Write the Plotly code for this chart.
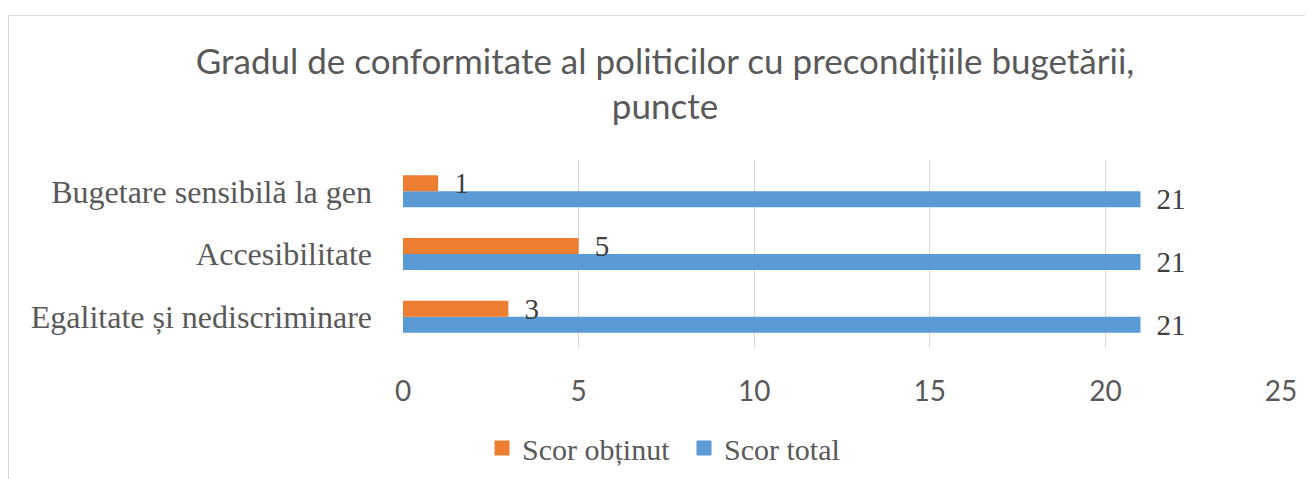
import plotly.graph_objects as go

# categories listed bottom-to-top (category axis draws the first one at the bottom)
categories = ["Egalitate și nediscriminare", "Accesibilitate", "Bugetare sensibilă la gen"]
scor_obtinut = [3, 5, 1]
scor_total = [21, 21, 21]
x_ticks = [0, 5, 10, 15, 20, 25]

OFF = 8  # browser body margin
W, H = 1313 - OFF, 479 - OFF
# plot area in page pixels
PL, PR, PT, PB = 403, 1281, 160, 348
L, T = PL - OFF, PT - OFF
R = W - (PR - OFF)
B = H - (PB - OFF)
pw, ph = PR - PL, PB - PT

def px_x(x):
    return (x - PL) / pw

def px_y(y):
    return 1 - (y - PT) / ph

label_font = dict(family="Liberation Serif", size=29, color="#404040")
ORANGE, BLUE = "#ED7D31", "#5B9BD5"

fig = go.Figure()
fig.add_trace(go.Bar(
    y=categories, x=scor_total, orientation="h", name="Scor total",
    marker=dict(color=BLUE, line=dict(width=0)),
    texttemplate="\u00a0\u2009%{x}", textposition="outside", textfont=label_font,
    constraintext="none", cliponaxis=False, showlegend=False,
))
fig.add_trace(go.Bar(
    y=categories, x=scor_obtinut, orientation="h", name="Scor obținut",
    marker=dict(color=ORANGE, line=dict(width=0)),
    texttemplate="\u00a0\u2009%{x}", textposition="outside", textfont=label_font,
    constraintext="none", cliponaxis=False, showlegend=False,
))
# legend entries (square swatches like the original)
fig.add_trace(go.Scatter(
    x=[None], y=[None], mode="markers", name="Scor obținut",
    marker=dict(symbol="square", size=15, color=ORANGE), legendrank=1,
))
fig.add_trace(go.Scatter(
    x=[None], y=[None], mode="markers", name="Scor total",
    marker=dict(symbol="square", size=15, color=BLUE), legendrank=2,
))

fig.update_layout(
    width=W, height=H,
    margin=dict(l=L, r=R, t=T, b=B, autoexpand=False),
    paper_bgcolor="white", plot_bgcolor="white",
    barmode="group", bargap=0.49, bargroupgap=0,
    title=dict(
        text="Gradul de conformitate al politicilor cu precondițiile bugetării,<br>puncte",
        font=dict(family="Lato", size=35, color="#595959"),
        x=(665 - OFF) / W, xanchor="center", xref="container",
        y=1 - (83.5 - OFF - 10) / H, yanchor="middle", yref="container",
    ),
    xaxis=dict(
        range=[0, 25], tickvals=x_ticks, showgrid=True, gridcolor="#d9d9d9",
        gridwidth=1, zeroline=False, showline=False, ticks="",
        tickfont=dict(family="Lato", size=28, color="#595959"),
        ticklabelstandoff=24,
    ),
    yaxis=dict(
        showgrid=False, zeroline=False, showline=False,
        ticks="", tickfont=dict(family="Liberation Serif", size=32, color="#595959"),
        ticklabelstandoff=30,
    ),
    legend=dict(
        orientation="h", x=px_x(684), xanchor="center", y=px_y(448), yanchor="middle",
        font=dict(family="Liberation Serif", size=30, color="#595959"),
        itemwidth=30, bgcolor="rgba(0,0,0,0)",
        entrywidth=157, entrywidthmode="pixels",
    ),
    showlegend=True,
)

fig.add_shape(
    type="rect", xref="paper", yref="paper",
    x0=px_x(8.5), x1=px_x(1340), y0=px_y(520), y1=px_y(15.5),
    line=dict(color="#d9d9d9", width=1), fillcolor="rgba(0,0,0,0)", layer="below",
)

fig.write_html("out.html")
